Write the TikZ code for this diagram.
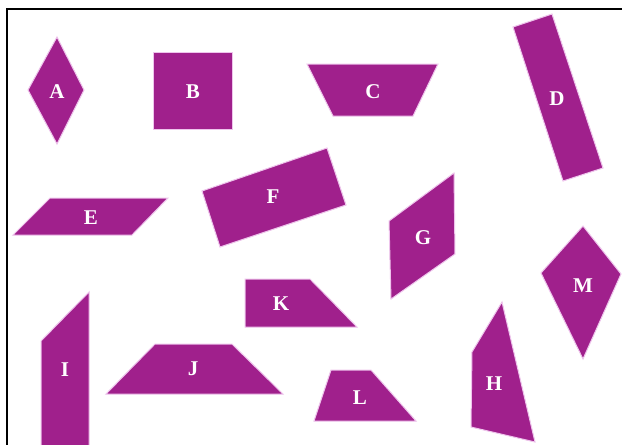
\documentclass[tikz,border=0pt]{standalone}
\usepackage{fontspec}
\setmainfont{Liberation Serif}
\definecolor{shapefill}{RGB}{160,32,140}
\definecolor{shapeedge}{RGB}{238,196,236}
\tikzset{
  piece/.style={fill=shapefill, draw=shapeedge, line width=1pt, line join=miter},
  lbl/.style={text=white, font=\fontsize{21}{21}\selectfont\bfseries, inner sep=0pt},
  frameline/.style={draw=black, line width=2pt}
}
\begin{document}
\begin{tikzpicture}[x=1pt,y=-1pt]
\fill[white] (0,0) rectangle (622,445);
\useasboundingbox (0,0) rectangle (622,445);
\draw[frameline] (7,445) -- (7,9) -- (622,9);
% A
\path[piece] (57,37) -- (84,90) -- (57,144) -- (28,90) -- cycle;
\node[lbl] (A) at (57,92) {A};
% B
\path[piece] (153,52) rectangle (232,129);
\node[lbl] (B) at (193,92) {B};
% C
\path[piece] (307,64) -- (438,64) -- (413,116) -- (333,116) -- cycle;
\node[lbl] (C) at (373,92) {C};
% D
\path[piece] (513,27) -- (552,14) -- (603,168) -- (563,181) -- cycle;
\node[lbl] (D) at (557,99) {D};
% E
\path[piece] (50,198) -- (168,198) -- (132,235) -- (13,235) -- cycle;
\node[lbl] (E) at (91,218) {E};
% F
\path[piece] (202,191) -- (327,148) -- (346,205) -- (220,247) -- cycle;
\node[lbl] (F) at (273,197) {F};
% G
\path[piece] (389,221) -- (454,173) -- (455,254) -- (391,299) -- cycle;
\node[lbl] (G) at (423,238) {G};
% H
\path[piece] (502,302) -- (535,442) -- (471,427) -- (472,352) -- cycle;
\node[lbl] (H) at (494,384) {H};
% I
\path[piece] (89,292) -- (89,447) -- (41,447) -- (41,341) -- cycle;
\node[lbl] (I) at (65,370) {I};
% J
\path[piece] (155,344) -- (232,344) -- (283,394) -- (106,394) -- cycle;
\node[lbl] (J) at (193,369) {J};
% K
\path[piece] (245,279) -- (310,279) -- (357,327) -- (245,327) -- cycle;
\node[lbl] (K) at (281,304) {K};
% L
\path[piece] (331,370) -- (371,370) -- (416,421) -- (314,421) -- cycle;
\node[lbl] (L) at (360,398) {L};
% M
\path[piece] (583,226) -- (621,274) -- (583,359) -- (541,273) -- cycle;
\node[lbl] (M) at (583,286) {M};
\end{tikzpicture}
\end{document}
